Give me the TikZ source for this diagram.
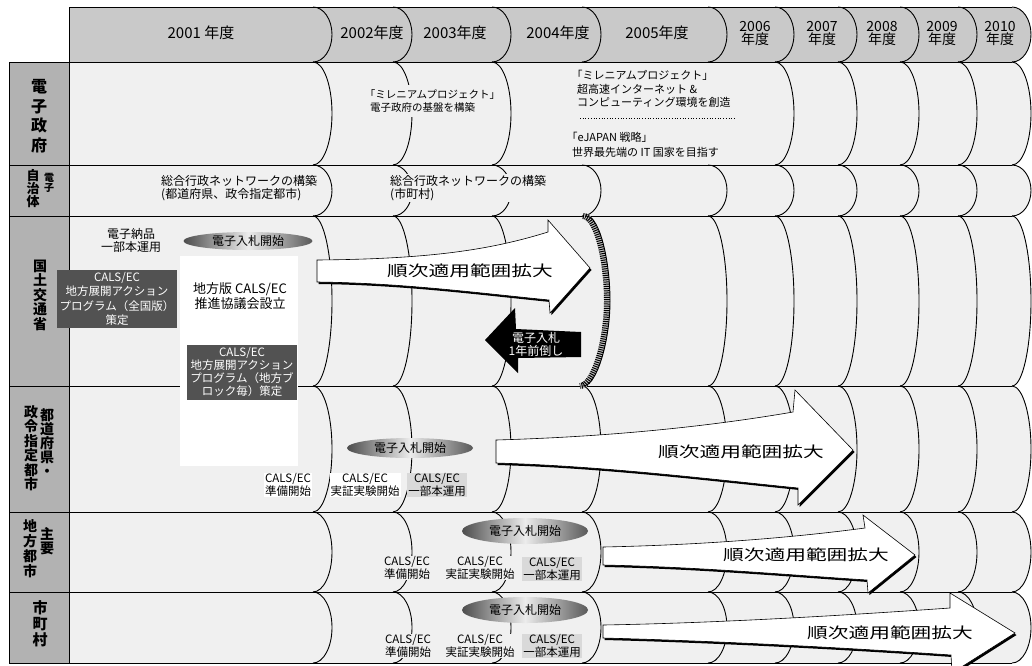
\documentclass[tikz,border=0pt]{standalone}
\usepackage{fontspec}
\usepackage{graphicx}
\setmainfont{Noto Sans CJK JP}
\usetikzlibrary{shapes.geometric}
\colorlet{rowc}{gray!12}
\colorlet{hdrc}{gray!42}
\colorlet{labc}{gray!60}
\colorlet{darkc}{black!68}

\newcommand{\bulgearc}[4][]{%
  \draw[arcline,#1] (#2,#3) .. controls ({#2+10.5},#3) and ({#2+19},{#3+0.224*(#4-#3)}) .. ({#2+19},{0.5*(#3+#4)}) .. controls ({#2+19},{#4-0.224*(#4-#3)}) and ({#2+10.5},#4) .. (#2,#4);}
\newcommand{\rowband}[3]{%
  \fill[#1] (69,#2) -- (1012,#2) .. controls (1022.5,#2) and (1031,{#2+0.224*(#3-#2)}) .. (1031,{0.5*(#2+#3)}) .. controls (1031,{#3-0.224*(#3-#2)}) and (1022.5,#3) .. (1012,#3) -- (69,#3) -- cycle;}
\newcommand{\lb}{\kern-0.5em}

\newcommand{\arrA}{(317,260) .. controls (430,259) and (490,250) .. (548,232) -- (548,220) -- (590,268) -- (550,313) -- (549,300) .. controls (470,292) and (400,283) .. (317,282) -- cycle}
\newcommand{\arrB}{(496,440) .. controls (600,437) and (700,428) .. (793,412) -- (795,390) -- (853,450) -- (798,505) -- (798,488) .. controls (700,478) and (600,466) .. (496,463) -- cycle}
\newcommand{\arrC}{(603,547) .. controls (700,545) and (790,538) .. (865,528) -- (863,515) -- (915,555) -- (868,593) -- (867,580) .. controls (790,575) and (700,567) .. (603,565) -- cycle}
\newcommand{\arrD}{(603,625) .. controls (720,623) and (850,615) .. (950,608) -- (950,593) -- (1015,633) -- (952,673) -- (951,655) .. controls (850,648) and (720,641) .. (603,638) -- cycle}
\newcommand{\hatchpath}{(583,216) .. controls (597,216) and (607,262) .. (607,301) .. controls (607,340) and (594,386) .. (580,386)}

\begin{document}
\begin{tikzpicture}[x=1pt,y=-1pt,
  arcline/.style={line width=0.9pt},
  gridl/.style={line width=0.9pt},
  lab/.style={font=\fontsize{14}{14.5}\selectfont\bfseries, align=center, inner sep=0pt},
  hdrt/.style={font=\fontsize{15}{15}\selectfont, inner sep=0pt},
  hdrt2/.style={font=\fontsize{14}{13}\selectfont, align=center, inner sep=0pt},
  rowtxt/.style={font=\fontsize{12}{13}\selectfont, align=left, inner sep=1pt},
  cals/.style={font=\fontsize{11.5}{12.5}\selectfont, align=center, inner sep=1pt, fill=rowc},
  calsg/.style={cals, fill=gray!30},
  ebid/.style={ellipse, inner sep=0pt, minimum width=126pt, minimum height=20pt, left color=black!70, right color=black!65, middle color=white!85!gray, font=\fontsize{12}{12}\selectfont},
  darkbox/.style={fill=darkc, text=white, align=center, inner sep=0pt, font=\fontsize{11.5}{13}\selectfont},
  arrshadow/.style={fill=black},
  bigarrow/.style={fill=white, draw=black, line width=0.6pt},
  bigtxt/.style={font=\fontsize{15}{15}\selectfont, inner sep=0pt},
]
\useasboundingbox (0,0) rectangle (1032,665);

% backgrounds
\rowband{hdrc}{7}{62}
\rowband{rowc}{62}{165}
\rowband{rowc}{165}{216}
\rowband{rowc}{216}{386}
\rowband{rowc}{386}{512}
\rowband{rowc}{512}{592}
\rowband{rowc}{592}{663}
\fill[labc] (9,62) rectangle (69,663);

% column arcs
\foreach \c in {313,393,492,582,708,775,838,900,958,1012} {\bulgearc{\c}{7}{62}}
\foreach \c in {313,393,492,775,838,900,958,1012} {\bulgearc{\c}{62}{165}}
\foreach \c in {313,393,492,582,708,775,838,900,958,1012} {\bulgearc{\c}{165}{216}}
\foreach \c in {313,393,492,708,775,838,900,958,1012} {\bulgearc{\c}{216}{386}}
\foreach \c in {313,393,492,582,708,775,838,900,958,1012} {\bulgearc{\c}{386}{512}}
\foreach \c in {313,393,492,582,708,775,838,900,958,1012} {\bulgearc{\c}{512}{592}}
\foreach \c in {313,393,492,582,708,775,838,900,958,1012} {\bulgearc{\c}{592}{663}}

% grid lines
\draw[gridl] (69,7) -- (1012,7);
\foreach \y in {62,165,216,386,512,592,663} {\draw[gridl] (9,\y) -- (1012,\y);}
\draw[gridl] (69,7) -- (69,663);
\draw[gridl] (9,62) -- (9,663);

% header texts
\node[hdrt] (h2001) at (201,33) {2001 年度};
\node[hdrt] (h2002) at (372,33) {2002年度};
\node[hdrt] (h2003) at (455,33) {2003年度};
\node[hdrt] (h2004) at (558,33) {2004年度};
\node[hdrt] (h2005) at (657,33) {2005年度};
\node[hdrt2] (h2006) at (755,33) {2006\\年度};
\node[hdrt2] (h2007) at (822,33) {2007\\年度};
\node[hdrt2] (h2008) at (882,33) {2008\\年度};
\node[hdrt2] (h2009) at (942,33) {2009\\年度};
\node[hdrt2] (h2010) at (1000,33) {2010\\年度};

% left labels
\node[lab, font=\fontsize{16}{19.5}\selectfont\bfseries] (l1) at (39,116) {電\\子\\政\\府};
\node[lab, font=\fontsize{10}{9.5}\selectfont\bfseries] (l2a) at (49,183) {電\\子};
\node[lab, font=\fontsize{13}{13}\selectfont\bfseries] (l2b) at (33,189) {自\\治\\体};
\node[lab] (l3) at (40,295) {国\\土\\交\\通\\省};
\node[lab, font=\fontsize{14}{14}\selectfont\bfseries] (l4a) at (47,443) {都\\道\\府\\県\\・};
\node[lab, font=\fontsize{14}{14.5}\selectfont\bfseries] (l4b) at (31,448) {政\\令\\指\\定\\都\\市};
\node[lab, font=\fontsize{14}{14.5}\selectfont\bfseries] (l5a) at (47,541) {主\\要};
\node[lab, font=\fontsize{14}{15}\selectfont\bfseries] (l5b) at (30,549) {地\\方\\都\\市};
\node[lab, font=\fontsize{15}{16}\selectfont\bfseries] (l6) at (40,624) {市\\町\\村};

% e-government row
\node[rowtxt, font=\fontsize{10.5}{13}\selectfont, fill=rowc, inner ysep=5pt, anchor=west] (mil1) at (369,101) {\lb「ミレニアムプロジェクト」\\電子政府の基盤を構築};
\node[rowtxt, font=\fontsize{11}{13.5}\selectfont, anchor=north west] (mil2) at (576,69) {\lb「ミレニアムプロジェクト」\\超高速インターネット \&\\コンピューティング環境を創造};
\draw[dotted, line width=0.7pt] (580,118) -- (736,118);
\node[rowtxt, font=\fontsize{11}{15}\selectfont, anchor=west] (ejp) at (571,145) {\lb「eJAPAN 戦略」\\世界最先端の IT 国家を目指す};

% e-local-government row
\node[rowtxt, fill=rowc, anchor=west] (net1) at (160,188) {総合行政ネットワークの構築\\(都道府県、政令指定都市)};
\node[rowtxt, fill=rowc, anchor=west] (net2) at (389,188) {総合行政ネットワークの構築\\(市町村)};

% MLIT row
\fill[white] (180,256) rectangle (298,466);
\node[rowtxt, align=center] (nohin) at (131,240) {電子納品\\一部本運用};
\node[ebid, minimum width=129pt, minimum height=18pt] (bid1) at (248,241) {電子入札開始};
\node[darkbox, minimum width=120pt, minimum height=58pt, font=\fontsize{11.5}{14.5}\selectfont] (ap1) at (117,299) {CALS/EC\\地方展開アクション\\プログラム（全国版）\\策定};
\node[rowtxt, font=\fontsize{13}{15}\selectfont, align=center] (kyogi) at (240,296) {地方版 CALS/EC\\推進協議会設立};
\node[darkbox, minimum width=110pt, minimum height=55pt] (ap2) at (242,372) {CALS/EC\\地方展開アクション\\プログラム（地方ブ\\ロック毎）策定};

% prefectures row
\node[ebid] (bid2) at (410,448) {電子入札開始};
\node[cals, fill=white] (p1) at (288,485) {CALS/EC\\準備開始};
\node[cals, fill=white] (p2) at (365,485) {CALS/EC\\実証実験開始};
\node[calsg] (p3) at (437,485) {CALS/EC\\一部本運用};

% major cities row
\node[ebid, minimum height=26pt] (bid3) at (525,531) {電子入札開始};
\node[cals] (c1) at (407,568) {CALS/EC\\準備開始};
\node[cals] (c2) at (480,568) {CALS/EC\\実証実験開始};
\node[calsg] (c3) at (552,569) {CALS/EC\\一部本運用};

% municipalities row
\node[ebid, minimum height=26pt] (bid4) at (525,610) {電子入札開始};
\node[cals] (v1) at (408,646) {CALS/EC\\準備開始};
\node[cals] (v2) at (480,646) {CALS/EC\\実証実験開始};
\node[calsg] (v3) at (552,646) {CALS/EC\\一部本運用};

% big arrows
\fill[arrshadow, shift={(1.5,2)}] \arrA;
\path[bigarrow] \arrA;
\node[bigtxt] (t1) at (470,271) {\scalebox{1.38}[1]{順次適用範囲拡大}};
\fill[arrshadow, shift={(1.5,2)}] \arrB;
\path[bigarrow] \arrB;
\node[bigtxt] (t2) at (741,452) {\scalebox{1.38}[1]{順次適用範囲拡大}};
\fill[arrshadow, shift={(1.5,2)}] \arrC;
\path[bigarrow] \arrC;
\node[bigtxt] (t3) at (806,555) {\scalebox{1.38}[1]{順次適用範囲拡大}};
\fill[arrshadow, shift={(1.5,2)}] \arrD;
\path[bigarrow] \arrD;
\node[bigtxt] (t4) at (890,633) {\scalebox{1.38}[1]{順次適用範囲拡大}};

% black arrow
\fill[black] (485,340) -- (515,308) -- (516,329) -- (581,332) -- (581,357) -- (518,358) -- (518,373) -- cycle;
\node[font=\fontsize{12}{13}\selectfont, text=white, align=center, inner sep=0pt] (mae) at (536,344) {電子入札\\1年前倒し};

% hatched boundary
\draw[line width=6pt, gray!45] \hatchpath;
\draw[line width=6pt, dash pattern=on 1pt off 1.2pt] \hatchpath;
\draw[line width=0.9pt, xshift=3pt] \hatchpath;
\end{tikzpicture}
\end{document}
